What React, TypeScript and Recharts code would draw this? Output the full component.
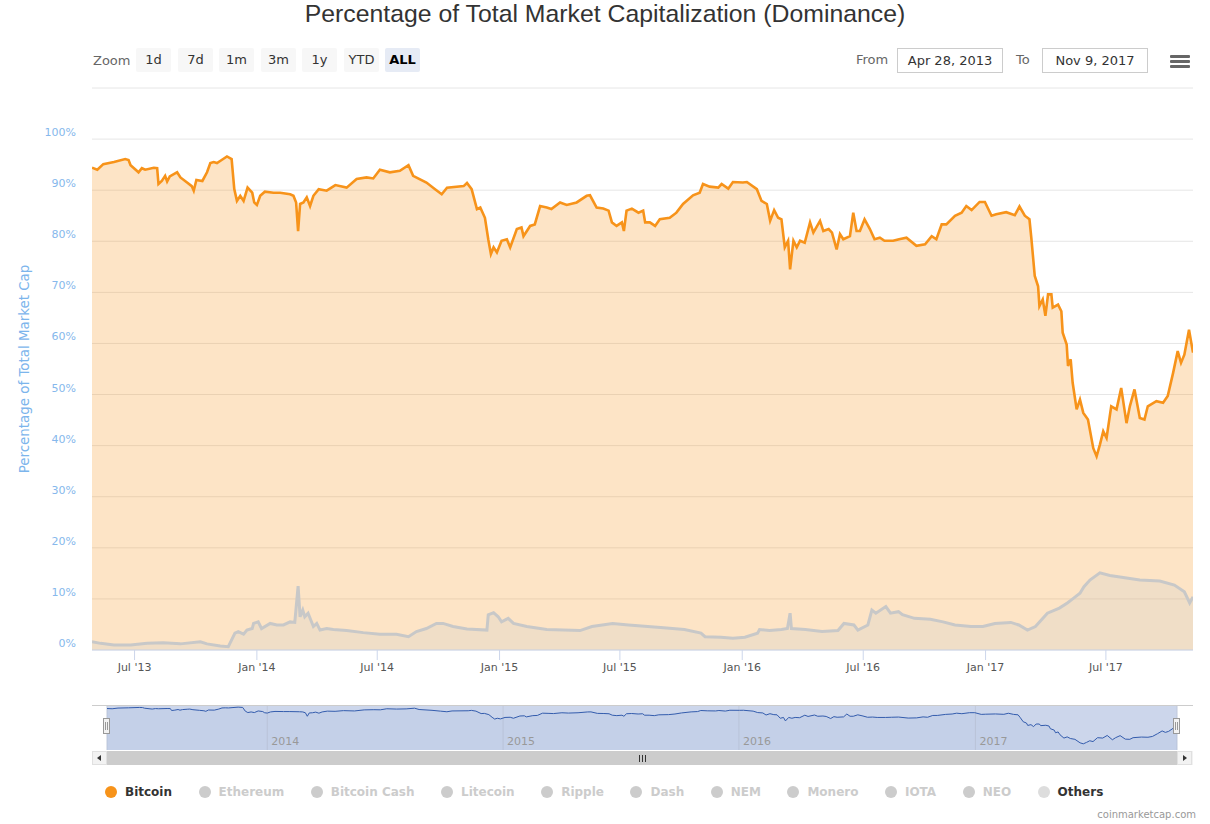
import React from 'react';
import { AreaChart, Area, XAxis, YAxis, CartesianGrid, Label } from 'recharts';

const FONT = '"DejaVu Sans", "Lucida Grande", Verdana, sans-serif';

// ---- data ----
const rangeFrom = '2013-04-28';
const rangeTo = '2017-11-09';

const btcDates = [
  '2013-04-28', '2013-05-06', '2013-05-15', '2013-05-31', '2013-06-17', '2013-06-22', '2013-06-25', '2013-07-07', '2013-07-12', '2013-07-17', '2013-07-30', '2013-08-04', '2013-08-06', '2013-08-11', '2013-08-16', '2013-08-19', '2013-08-23', '2013-08-31', '2013-09-03', '2013-09-08', '2013-09-18', '2013-09-25', '2013-09-28', '2013-10-02', '2013-10-11', '2013-10-18', '2013-10-23', '2013-10-28', '2013-11-02', '2013-11-09', '2013-11-17', '2013-11-24', '2013-11-28', '2013-12-02', '2013-12-07', '2013-12-12', '2013-12-18', '2013-12-25', '2013-12-28',
  '2014-01-01', '2014-01-06', '2014-01-13', '2014-01-26', '2014-02-05', '2014-02-20', '2014-02-25', '2014-03-01', '2014-03-04', '2014-03-07', '2014-03-12', '2014-03-17', '2014-03-22', '2014-03-27', '2014-04-04', '2014-04-16', '2014-04-29', '2014-05-16', '2014-05-31', '2014-06-15', '2014-06-25', '2014-07-05', '2014-07-20', '2014-08-04', '2014-08-17', '2014-08-24', '2014-09-13', '2014-09-26', '2014-10-06', '2014-10-14', '2014-11-08', '2014-11-13', '2014-11-20', '2014-11-28', '2014-12-03', '2014-12-10', '2014-12-15', '2014-12-19', '2014-12-23', '2014-12-28',
  '2015-01-04', '2015-01-12', '2015-01-17', '2015-01-27', '2015-02-03', '2015-02-06', '2015-02-16', '2015-02-23', '2015-03-03', '2015-03-13', '2015-03-20', '2015-04-02', '2015-04-12', '2015-04-27', '2015-05-12', '2015-05-17', '2015-05-27', '2015-06-06', '2015-06-14', '2015-06-19', '2015-06-26', '2015-07-04', '2015-07-07', '2015-07-11', '2015-07-19', '2015-07-29', '2015-08-05', '2015-08-08', '2015-08-15', '2015-08-23', '2015-08-30', '2015-09-14', '2015-09-24', '2015-10-04', '2015-10-19', '2015-10-29', '2015-11-03', '2015-11-13', '2015-11-26', '2015-12-01', '2015-12-11', '2015-12-18',
  '2016-01-02', '2016-01-08', '2016-01-23', '2016-01-30', '2016-02-07', '2016-02-12', '2016-02-18', '2016-02-24', '2016-02-29', '2016-03-05', '2016-03-10', '2016-03-13', '2016-03-18', '2016-03-23', '2016-03-28', '2016-04-04', '2016-04-12', '2016-04-17', '2016-04-27', '2016-05-02', '2016-05-10', '2016-05-15', '2016-05-22', '2016-05-27', '2016-06-01', '2016-06-11', '2016-06-16', '2016-06-21', '2016-06-26', '2016-07-03', '2016-07-11', '2016-07-18', '2016-07-26', '2016-08-02', '2016-08-15', '2016-08-24', '2016-09-04', '2016-09-19', '2016-10-02', '2016-10-12', '2016-10-19', '2016-10-27', '2016-11-03', '2016-11-16', '2016-11-26', '2016-12-03', '2016-12-11', '2016-12-23', '2016-12-31',
  '2017-01-10', '2017-01-17', '2017-02-01', '2017-02-14', '2017-02-21', '2017-03-01', '2017-03-08', '2017-03-11', '2017-03-16', '2017-03-21', '2017-03-23', '2017-03-28', '2017-04-01', '2017-04-05', '2017-04-10', '2017-04-12', '2017-04-20', '2017-04-25', '2017-04-27', '2017-05-03', '2017-05-05', '2017-05-09', '2017-05-12', '2017-05-18', '2017-05-23', '2017-05-28', '2017-06-04', '2017-06-12', '2017-06-17', '2017-06-22', '2017-06-27', '2017-07-02', '2017-07-09', '2017-07-17', '2017-07-24', '2017-08-01', '2017-08-06', '2017-08-13', '2017-08-21', '2017-08-28', '2017-09-02', '2017-09-15', '2017-09-25', '2017-10-02', '2017-10-10', '2017-10-17', '2017-10-22', '2017-10-27', '2017-11-03', '2017-11-09',
];

const btcShare = [
  94.4, 94.0, 95.1, 95.5, 96.1, 95.9, 94.9, 93.5, 94.3, 94.0, 94.4, 94.3, 91.2, 91.8, 92.8, 91.7, 92.7, 93.3, 93.5, 92.5, 91.5, 90.8, 89.9, 92.0, 91.8, 93.5, 95.3, 95.5, 95.3, 95.9, 96.6, 96.1, 90.2, 87.9, 88.9, 87.9, 90.5, 89.5, 87.6,
  87.1, 88.9, 89.7, 89.5, 89.5, 89.2, 88.9, 87.6, 82.0, 87.3, 87.6, 88.6, 86.9, 88.9, 90.2, 89.9, 91.0, 90.5, 92.2, 92.5, 92.3, 94.0, 93.5, 93.8, 94.9, 92.8, 91.5, 90.2, 89.2, 90.5, 90.8, 91.4, 90.2, 86.3, 86.6, 84.6, 80.4, 77.5, 78.8, 77.8,
  80.1, 80.4, 78.8, 82.4, 82.7, 81.0, 83.0, 83.3, 86.9, 86.6, 86.3, 87.6, 87.1, 87.6, 88.9, 89.0, 86.6, 86.4, 86.0, 83.7, 83.0, 83.7, 82.0, 86.0, 86.4, 85.6, 86.0, 83.7, 83.7, 83.0, 84.3, 84.6, 85.6, 87.3, 89.0, 89.5, 91.2, 90.7, 90.5, 91.2, 90.3, 91.6,
  91.5, 91.6, 90.2, 87.9, 87.3, 84.0, 86.1, 84.6, 84.3, 78.8, 80.1, 74.5, 80.1, 78.8, 80.1, 79.7, 83.7, 81.7, 84.0, 82.0, 82.4, 81.7, 78.4, 81.4, 80.4, 81.0, 85.6, 82.0, 82.0, 84.3, 82.4, 80.4, 80.7, 80.1, 80.1, 80.4, 80.7, 79.1, 79.4, 81.0, 80.4, 83.3, 83.3, 85.0, 85.6, 86.9, 86.1, 87.7, 87.7,
  85.0, 85.3, 85.7, 85.1, 86.8, 85.0, 84.3, 80.4, 73.2, 71.2, 67.3, 68.6, 65.4, 69.6, 69.6, 67.0, 67.6, 66.3, 62.1, 59.8, 55.6, 56.9, 52.3, 47.1, 49.0, 46.4, 45.1, 39.5, 37.9, 40.2, 42.8, 41.5, 47.7, 47.1, 51.3, 44.4, 47.7, 51.0, 45.4, 45.1, 47.7, 48.7, 48.4, 49.7, 54.2, 58.5, 56.2, 57.8, 62.7, 58.2,
];

const otherDates = [
  '2013-04-28', '2013-05-11', '2013-05-31', '2013-06-25', '2013-07-20', '2013-08-13', '2013-09-08', '2013-10-08', '2013-10-18', '2013-11-07', '2013-11-19', '2013-11-29', '2013-12-04', '2013-12-12', '2013-12-17', '2013-12-25', '2013-12-27',
  '2014-01-03', '2014-01-08', '2014-01-21', '2014-01-31', '2014-02-10', '2014-02-20', '2014-02-27', '2014-03-04', '2014-03-07', '2014-03-11', '2014-03-14', '2014-03-19', '2014-03-27', '2014-04-01', '2014-04-06', '2014-04-16', '2014-04-26', '2014-05-16', '2014-06-10', '2014-07-05', '2014-07-30', '2014-08-17', '2014-08-29', '2014-09-13', '2014-09-28', '2014-10-08', '2014-10-23', '2014-11-13', '2014-12-13', '2014-12-15', '2014-12-23', '2014-12-30',
  '2015-01-04', '2015-01-14', '2015-01-22', '2015-02-11', '2015-03-13', '2015-05-02', '2015-05-20', '2015-06-20', '2015-07-14', '2015-08-31', '2015-10-06', '2015-10-31', '2015-11-06', '2015-11-30', '2015-12-18',
  '2016-01-05', '2016-01-24', '2016-01-27', '2016-02-11', '2016-02-29', '2016-03-09', '2016-03-13', '2016-03-15', '2016-04-05', '2016-04-30', '2016-05-24', '2016-06-02', '2016-06-17', '2016-06-23', '2016-07-08', '2016-07-14', '2016-07-20', '2016-08-04', '2016-08-11', '2016-08-23', '2016-08-29', '2016-09-16', '2016-10-10', '2016-10-29', '2016-11-16', '2016-12-10', '2016-12-28',
  '2017-01-15', '2017-02-08', '2017-02-20', '2017-03-05', '2017-03-17', '2017-04-04', '2017-04-22', '2017-05-04', '2017-05-13', '2017-05-23', '2017-05-29', '2017-06-07', '2017-06-22', '2017-07-07', '2017-07-22', '2017-08-21', '2017-09-20', '2017-10-12', '2017-10-27', '2017-11-04', '2017-11-09',
];

const otherShare = [
  1.6, 1.3, 1.0, 1.0, 1.3, 1.4, 1.2, 1.6, 1.2, 0.8, 0.65, 3.3, 3.6, 3.1, 3.9, 4.2, 5.2,
  5.5, 4.2, 5.2, 4.9, 4.9, 5.5, 5.4, 12.5, 6.5, 7.8, 6.5, 7.2, 4.6, 5.2, 3.9, 4.2, 4.0, 3.8, 3.4, 3.1, 3.1, 2.6, 3.6, 4.2, 5.2, 5.2, 4.6, 4.1, 3.9, 6.9, 7.3, 6.5,
  5.5, 6.2, 5.2, 4.6, 4.0, 3.8, 4.6, 5.2, 4.9, 4.4, 4.0, 3.3, 2.6, 2.5, 2.3,
  2.5, 3.3, 4.0, 3.8, 4.0, 4.2, 7.2, 4.2, 4.0, 3.6, 3.8, 5.2, 4.9, 3.9, 4.9, 7.8, 7.2, 8.5, 7.2, 7.5, 6.9, 6.2, 6.0, 5.5, 4.9, 4.6, 4.6,
  5.2, 5.4, 4.9, 3.9, 4.6, 7.2, 8.2, 9.2, 10.1, 11.1, 12.4, 13.7, 15.1, 14.6, 14.3, 13.7, 13.5, 12.7, 11.4, 9.2, 10.4,
];

const axisTickDates = ['2013-07-01', '2014-01-01', '2014-07-01', '2015-01-01', '2015-07-01', '2016-01-01', '2016-07-01', '2017-01-01', '2017-07-01'];
const axisTickLabels = ["Jul '13", "Jan '14", "Jul '14", "Jan '15", "Jul '15", "Jan '16", "Jul '16", "Jan '17", "Jul '17"];
const navYearDates = ['2014-01-01', '2015-01-01', '2016-01-01', '2017-01-01'];
const navYearLabels = ['2014', '2015', '2016', '2017'];
const yTicks = [0, 10, 20, 30, 40, 50, 60, 70, 80, 90, 100, 110];

const zoomButtons = ['1d', '7d', '1m', '3m', '1y', 'YTD', 'ALL'];
const legendNames = ['Bitcoin', 'Ethereum', 'Bitcoin Cash', 'Litecoin', 'Ripple', 'Dash', 'NEM', 'Monero', 'IOTA', 'NEO', 'Others'];
const legendVisible = [true, false, false, false, false, false, false, false, false, false, true];
const legendColors = ['#f7931a', '#cccccc', '#cccccc', '#cccccc', '#cccccc', '#cccccc', '#cccccc', '#cccccc', '#cccccc', '#cccccc', '#dddddd'];

// ---- build rows ----
const toTs = (d: string) => Date.parse(d + 'T00:00:00Z');
const startTs = toTs(rangeFrom);
const endTs = toTs(rangeTo);

type Row = { t: number; btc?: number; others?: number };
const rowMap = new Map<number, Row>();
btcDates.forEach((d, i) => {
  const t = toTs(d);
  rowMap.set(t, { ...(rowMap.get(t) || { t }), btc: btcShare[i] });
});
otherDates.forEach((d, i) => {
  const t = toTs(d);
  rowMap.set(t, { ...(rowMap.get(t) || { t }), others: otherShare[i] });
});
const chartData = Array.from(rowMap.values()).sort((a, b) => a.t - b.t);
const navData = btcDates.map((d, i) => ({ t: toTs(d), btc: btcShare[i] }));

const tickTs = axisTickDates.map(toTs);
const navTickTs = navYearDates.map(toTs);

function YTick(props: any) {
  const { x, y, payload } = props;
  if (payload.value > 100) return <g />;
  return (
    <text x={x - 16} y={y - 3} textAnchor="end" fill="#86b8ec" fontSize={11} fontFamily={FONT}>
      {payload.value}%
    </text>
  );
}

function XTick(props: any) {
  const { x, y, payload } = props;
  const idx = tickTs.indexOf(payload.value);
  return (
    <text x={x} y={y + 9} textAnchor="middle" fill="#555" fontSize={11} fontFamily={FONT}>
      {axisTickLabels[idx]}
    </text>
  );
}

function NavTick(props: any) {
  const { x, y, payload } = props;
  const idx = navTickTs.indexOf(payload.value);
  return (
    <text x={x + 4} y={y - 5} fill="#999" fontSize={11} fontFamily={FONT}>
      {navYearLabels[idx]}
    </text>
  );
}

function YTitle(props: any) {
  const { viewBox } = props;
  const cx = viewBox.x + 12;
  const cy = viewBox.y + viewBox.height / 2;
  return (
    <text x={cx} y={cy} transform={`rotate(-90 ${cx} ${cy})`} textAnchor="middle" dominantBaseline="central"
      fill="#7cb5ec" fontSize={13.4} fontFamily={FONT}>
      Percentage of Total Market Cap
    </text>
  );
}

function Handle({ left }: { left: number }) {
  return (
    <div style={{ position: 'absolute', left: left - 4, top: 718, width: 7, height: 16, background: '#f2f2f2', border: '1px solid #999', boxSizing: 'border-box' }}>
      <div style={{ position: 'absolute', left: 1, top: 3, width: 1, height: 8, background: '#999' }} />
      <div style={{ position: 'absolute', left: 3, top: 3, width: 1, height: 8, background: '#999' }} />
    </div>
  );
}

export default function App() {
  return (
    <div style={{ position: 'absolute', left: 0, top: 0, width: 1210, height: 824, background: '#fff', overflow: 'hidden', fontFamily: FONT }}>
      {/* title */}
      <div style={{ position: 'absolute', left: 0, top: 0, width: 1210, textAlign: 'center', fontFamily: '"Liberation Sans", Arial, sans-serif', fontSize: 24.8, lineHeight: '28px', color: '#333' }}>
        Percentage of Total Market Capitalization (Dominance)
      </div>

      {/* range selector */}
      <div style={{ position: 'absolute', left: 93, top: 51, fontSize: 13, lineHeight: '20px', color: '#666' }}>Zoom</div>
      {zoomButtons.map((b, i) => (
        <div key={b} style={{
          position: 'absolute', left: 136 + Math.round(i * 41.5), top: 48, width: 35, height: 24, lineHeight: '24px',
          textAlign: 'center', fontSize: 13, borderRadius: 2,
          background: b === 'ALL' ? '#e6ebf5' : '#f7f7f7', color: b === 'ALL' ? '#000' : '#333', fontWeight: b === 'ALL' ? 'bold' : 'normal',
        }}>{b}</div>
      ))}
      <div style={{ position: 'absolute', left: 856, top: 50, fontSize: 13, lineHeight: '20px', color: '#666' }}>From</div>
      <div style={{ position: 'absolute', left: 897, top: 48, width: 106, height: 25, boxSizing: 'border-box', border: '1px solid #ccc', textAlign: 'center', fontSize: 13, lineHeight: '23px', color: '#333' }}>Apr 28, 2013</div>
      <div style={{ position: 'absolute', left: 1016, top: 50, fontSize: 13, lineHeight: '20px', color: '#666' }}>To</div>
      <div style={{ position: 'absolute', left: 1042, top: 48, width: 106, height: 25, boxSizing: 'border-box', border: '1px solid #ccc', textAlign: 'center', fontSize: 13, lineHeight: '23px', color: '#333' }}>Nov 9, 2017</div>
      {[55, 60, 65].map((t) => (
        <div key={t} style={{ position: 'absolute', left: 1170, top: t, width: 20, height: 3, background: '#666', borderRadius: 1 }} />
      ))}

      {/* main chart */}
      <div style={{ position: 'absolute', left: 0, top: 0 }}>
        <AreaChart width={1210} height={700} data={chartData} margin={{ top: 88, right: 17, bottom: 20, left: 12 }}>
          <CartesianGrid vertical={false} stroke="#e6e6e6" />
          <XAxis dataKey="t" type="number" scale="linear" domain={[startTs, endTs]} ticks={tickTs} allowDataOverflow
            height={30} tickSize={10} tickMargin={2} axisLine={{ stroke: '#ccd6eb' }} tickLine={{ stroke: '#ccd6eb' }} tick={<XTick />} />
          <YAxis type="number" domain={[0, 110]} ticks={yTicks} width={80} axisLine={false} tickLine={false}
            tickSize={0} tickMargin={0} tick={<YTick />} interval={0}>
            <Label content={<YTitle />} />
          </YAxis>
          <Area type="linear" dataKey="btc" stroke="#f7931a" strokeWidth={2.6} fill="#f7931a" fillOpacity={0.25}
            connectNulls dot={false} activeDot={false} isAnimationActive={false} />
          <Area type="linear" dataKey="others" stroke="#c8c8c8" strokeWidth={3} fill="#cccccc" fillOpacity={0.25}
            connectNulls dot={false} activeDot={false} isAnimationActive={false} />
        </AreaChart>
      </div>

      {/* navigator */}
      <div style={{ position: 'absolute', left: 0, top: 690 }}>
        <AreaChart width={1210} height={70} data={navData} margin={{ top: 15, right: 33, bottom: 9, left: 107 }}>
          <CartesianGrid horizontal={false} stroke="#c0c9db" fill="#ccd6eb" fillOpacity={1} />
          <XAxis dataKey="t" type="number" scale="linear" domain={[startTs, endTs]} ticks={navTickTs} allowDataOverflow
            height={1} tickSize={0} tickMargin={0} axisLine={false} tickLine={false} tick={<NavTick />} />
          <YAxis hide type="number" domain={[28, 100]} allowDataOverflow />
          <Area type="linear" dataKey="btc" stroke="#335cad" strokeWidth={1} fill="#335cad" fillOpacity={0.05}
            dot={false} activeDot={false} isAnimationActive={false} />
        </AreaChart>
      </div>
      <div style={{ position: 'absolute', left: 92, top: 705, width: 1101, height: 1, background: '#cccccc' }} />
      <Handle left={107} />
      <Handle left={1177} />

      {/* scrollbar */}
      <div style={{ position: 'absolute', left: 92, top: 751, width: 1101, height: 14, background: '#f2f2f2' }} />
      <div style={{ position: 'absolute', left: 107, top: 751, width: 1070, height: 14, background: '#cccccc' }} />
      <div style={{ position: 'absolute', left: 92, top: 751, width: 15, height: 14, boxSizing: 'border-box', background: '#f2f2f2', border: '1px solid #e0e0e0' }}>
        <div style={{ position: 'absolute', left: 4, top: 3, width: 0, height: 0, borderTop: '3px solid transparent', borderBottom: '3px solid transparent', borderRight: '4px solid #333' }} />
      </div>
      <div style={{ position: 'absolute', left: 1177, top: 751, width: 15, height: 14, boxSizing: 'border-box', background: '#f2f2f2', border: '1px solid #e0e0e0' }}>
        <div style={{ position: 'absolute', left: 5, top: 3, width: 0, height: 0, borderTop: '3px solid transparent', borderBottom: '3px solid transparent', borderLeft: '4px solid #333' }} />
      </div>
      {[-3, 0, 3].map((d) => (
        <div key={d} style={{ position: 'absolute', left: 642 + d, top: 755, width: 1, height: 7, background: '#333' }} />
      ))}

      {/* legend */}
      <div style={{ position: 'absolute', left: 105, top: 784, display: 'flex', alignItems: 'center', height: 16 }}>
        {legendNames.map((n, i) => (
          <div key={n} style={{ display: 'flex', alignItems: 'center', marginRight: 26.5 }}>
            <div style={{ width: 12, height: 12, borderRadius: 6, background: legendColors[i], marginRight: 8 }} />
            <span style={{ fontSize: 12, fontWeight: 'bold', color: legendVisible[i] ? '#333' : '#cccccc' }}>{n}</span>
          </div>
        ))}
      </div>

      {/* credits */}
      <div style={{ position: 'absolute', right: 14, top: 809, fontSize: 10, color: '#999' }}>coinmarketcap.com</div>
    </div>
  );
}
